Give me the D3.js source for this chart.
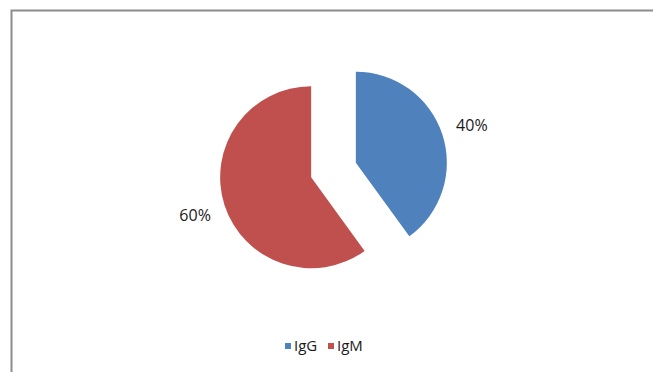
<!DOCTYPE html>
<html>
<head>
<meta charset="utf-8">
<script src="https://cdn.jsdelivr.net/npm/d3@7"></script>
<style>
  body { margin: 0; background: #fff; }
  svg { display: block; font-family: "Open Sans", "Liberation Sans", sans-serif; }
</style>
</head>
<body>
<svg id="chart" width="653" height="372"></svg>
<script>
// chart data
const categories = ['IgG', 'IgM'];
const values = [40, 60];
const colors = ['#4F81BD', '#C0504D'];

const svg = d3.select('#chart');

// chart area frame
svg.append('rect')
    .attr('x', 11.5)
    .attr('y', 10.5)
    .attr('width', 660)
    .attr('height', 400)
    .attr('fill', '#fff')
    .attr('stroke', '#8c8c8c')
    .attr('stroke-width', 2);

const cx = 333.5, cy = 170, radius = 91, explode = 23.5;

const pie = d3.pie().sort(null).value(d => d.value);
const arcs = pie(categories.map((c, i) => ({ name: c, value: values[i] })));

const arc = d3.arc().innerRadius(0).outerRadius(radius);
const labelArc = d3.arc().innerRadius(radius + 31).outerRadius(radius + 31);
const total = d3.sum(values);

const g = svg.append('g').attr('transform', `translate(${cx},${cy})`);

const slices = g.selectAll('.slice')
    .data(arcs)
    .enter().append('g')
    .attr('class', 'slice')
    .attr('transform', d => {
        const a = (d.startAngle + d.endAngle) / 2;
        return `translate(${Math.sin(a) * explode},${-Math.cos(a) * explode})`;
    });

slices.append('path')
    .attr('d', arc)
    .attr('fill', (d, i) => colors[i]);

slices.append('text')
    .attr('transform', d => `translate(${labelArc.centroid(d)})`)
    .attr('text-anchor', 'middle')
    .attr('dy', '0.35em')
    .attr('font-size', 16)
    .attr('fill', '#1a1a1a')
    .text(d => Math.round(d.data.value / total * 100) + '%');

// legend
const legend = svg.append('g').attr('transform', 'translate(285,351)');
const itemX = [0, 43];
const items = legend.selectAll('.legend-item')
    .data(categories)
    .enter().append('g')
    .attr('class', 'legend-item')
    .attr('transform', (d, i) => `translate(${itemX[i]},0)`);

items.append('rect')
    .attr('x', 0)
    .attr('y', -8)
    .attr('width', 6)
    .attr('height', 6)
    .attr('fill', (d, i) => colors[i]);

items.append('text')
    .attr('x', 9)
    .attr('y', 0)
    .attr('font-size', 15)
    .attr('fill', '#1a1a1a')
    .text(d => d);
</script>
</body>
</html>
